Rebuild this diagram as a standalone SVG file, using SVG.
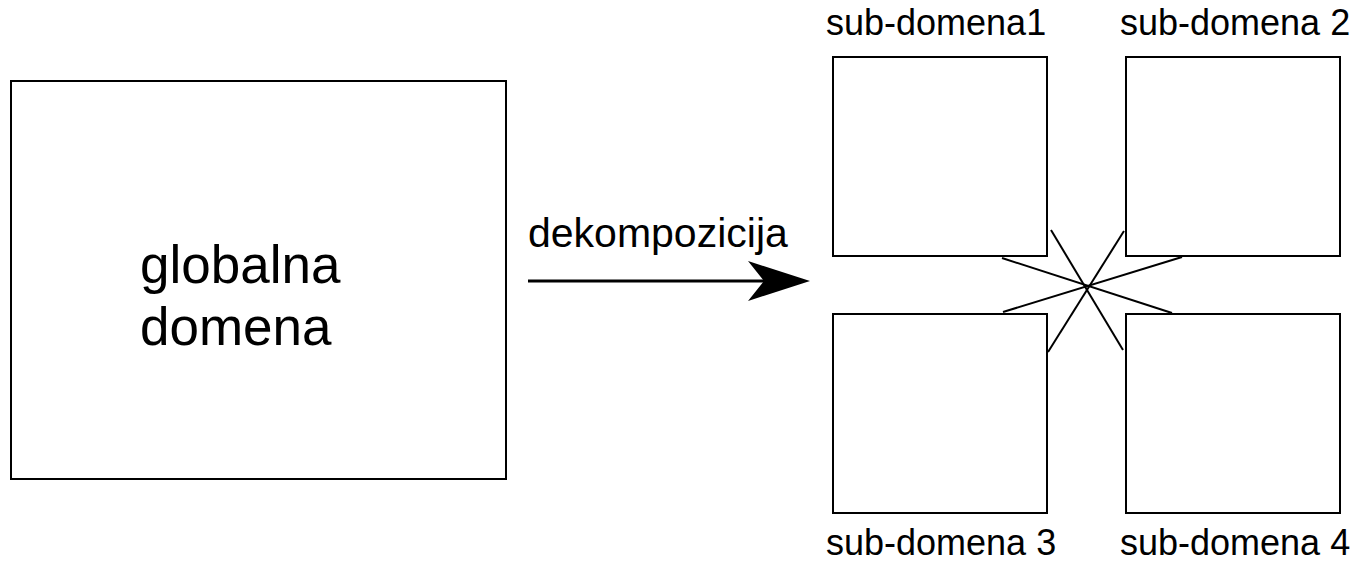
<svg xmlns="http://www.w3.org/2000/svg" width="1355" height="563" viewBox="0 0 1355 563">
<style>
.box{fill:#fff;stroke:#000;stroke-width:2}
.t{font-family:"Liberation Sans",Arial,sans-serif;fill:#000}
.l{stroke:#000;stroke-width:2;fill:none}
</style>
<defs>
<marker id="ah" markerUnits="userSpaceOnUse" markerWidth="70" markerHeight="50" refX="42" refY="20" orient="auto">
<path d="M0,0 L62,20 L0,40 L16,20 Z" fill="#000"/>
</marker>
</defs>
<rect width="1355" height="563" fill="#fff"/>
<g id="global">
<rect class="box" x="11" y="81" width="495" height="398"/>
<text class="t" x="140" y="283" font-size="53">globalna</text>
<text class="t" x="140" y="345" font-size="53">domena</text>
</g>
<g id="sub1">
<rect class="box" x="833" y="57" width="214" height="199"/>
<text class="t" x="826" y="35" font-size="36">sub-domena1</text>
</g>
<g id="sub2">
<rect class="box" x="1126" y="57" width="214" height="199"/>
<text class="t" x="1120" y="35" font-size="36">sub-domena 2</text>
</g>
<g id="sub3">
<rect class="box" x="833" y="314" width="214" height="199"/>
<text class="t" x="826" y="555" font-size="36">sub-domena 3</text>
</g>
<g id="sub4">
<rect class="box" x="1126" y="314" width="214" height="199"/>
<text class="t" x="1120" y="555" font-size="36">sub-domena 4</text>
</g>
<g id="connectors">
<line x1="528" y1="281" x2="790" y2="281" stroke="#000" stroke-width="3" marker-end="url(#ah)"/>
<text class="t" x="528" y="247" font-size="41">dekompozicija</text>
<line class="l" x1="1051" y1="230" x2="1123" y2="350"/>
<line class="l" x1="1124" y1="231" x2="1048" y2="352"/>
<line class="l" x1="1002" y1="258" x2="1172" y2="313"/>
<line class="l" x1="1182" y1="257" x2="1003" y2="312"/>
</g>
</svg>
